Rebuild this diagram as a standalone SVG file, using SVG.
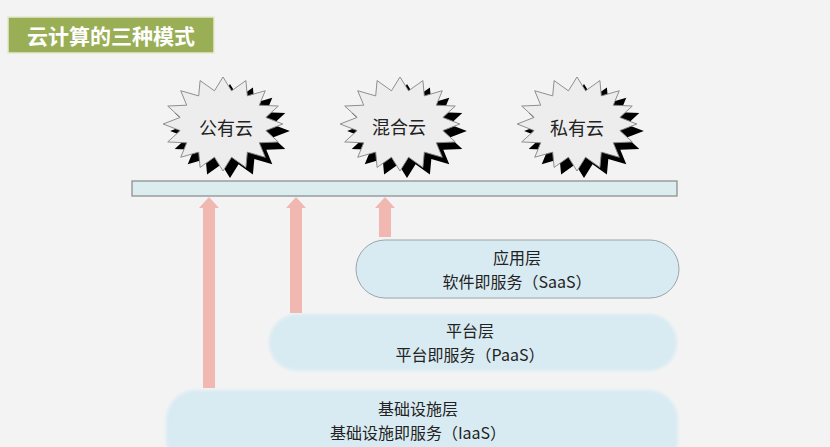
<svg xmlns="http://www.w3.org/2000/svg" width="830" height="447" viewBox="0 0 830 447">
<defs>
<style>
.cjk{font-family:"Noto Sans CJK SC","Noto Sans",sans-serif;fill:#222;text-anchor:middle;dominant-baseline:central}
.lbl{font-size:18px}
.ln{font-size:16px}
.arrow{fill:#f0b8b1}
.pill{fill:#d9ebf2}
.shadow{fill:#000}
.face{fill:#ededed;stroke:#888;stroke-width:1}
</style>
<polygon id="star" points="63,0 45.1,7 58.2,19.1 38.2,20 44.5,35.4 25.6,29.9 24.1,46.2 9,35.3 0,50 -9,35.3 -24.1,46.2 -25.6,29.9 -44.5,35.4 -38.2,20 -58.2,19.1 -45.1,7 -63,0 -45.1,-7 -58.2,-19.1 -38.2,-20 -44.5,-35.4 -25.6,-29.9 -24.1,-46.2 -9,-35.3 0,-50 9,-35.3 24.1,-46.2 25.6,-29.9 44.5,-35.4 38.2,-20 58.2,-19.1 45.1,-7"/>
<filter id="soft" x="-5%" y="-20%" width="110%" height="140%"><feGaussianBlur stdDeviation="1.5"/></filter>
</defs>
<rect x="0" y="0" width="830" height="447" fill="#f3f3f3"/>

<g id="title">
<rect x="8" y="17" width="206" height="36" fill="#9aae56" stroke="#e4e9cf" stroke-width="1.5"/>
<text x="111" y="35" class="cjk" style="fill:#fff;font-size:21px;font-weight:bold">云计算的三种模式</text>
</g>

<g id="public-cloud">
<use href="#star" class="shadow" transform="translate(230,131) scale(0.95,0.94)"/>
<use href="#star" class="face" transform="translate(223,124) scale(0.95,0.94)"/>
<text x="226" y="127" class="cjk lbl">公有云</text>
</g>
<g id="hybrid-cloud">
<use href="#star" class="shadow" transform="translate(407,131) scale(0.95,0.94)"/>
<use href="#star" class="face" transform="translate(400,124) scale(0.95,0.94)"/>
<text x="399" y="126" class="cjk lbl">混合云</text>
</g>
<g id="private-cloud">
<use href="#star" class="shadow" transform="translate(584,131) scale(0.95,0.94)"/>
<use href="#star" class="face" transform="translate(577,124) scale(0.95,0.94)"/>
<text x="577" y="127" class="cjk lbl">私有云</text>
</g>

<g id="bar">
<rect x="132" y="181" width="545" height="15" fill="#dcedf0" stroke="#888" stroke-width="1.2"/>
</g>

<g id="iaas">
<rect x="166" y="390" width="512" height="80" rx="30" class="pill" filter="url(#soft)"/>
<text x="418" y="408" class="cjk ln">基础设施层</text>
<text x="418" y="432" class="cjk ln">基础设施即服务（IaaS）</text>
</g>
<g id="paas">
<rect x="269" y="314" width="408" height="57" rx="28" class="pill" filter="url(#soft)"/>
<text x="470" y="330" class="cjk ln">平台层</text>
<text x="470" y="354" class="cjk ln">平台即服务（PaaS）</text>
</g>
<g id="saas">
<rect x="356" y="240" width="323" height="58" rx="29" class="pill" stroke="#9aa5aa" stroke-width="1"/>
<text x="517" y="257" class="cjk ln">应用层</text>
<text x="517" y="281" class="cjk ln">软件即服务（SaaS）</text>
</g>

<g id="connectors">
<polygon class="arrow" points="209,197 219,208 215,208 215,388 203,388 203,208 199,208"/>
<polygon class="arrow" points="296,197 306,208 302,208 302,313 290,313 290,208 286,208"/>
<polygon class="arrow" points="385,197 395,208 391,208 391,237 379,237 379,208 375,208"/>
</g>
</svg>
